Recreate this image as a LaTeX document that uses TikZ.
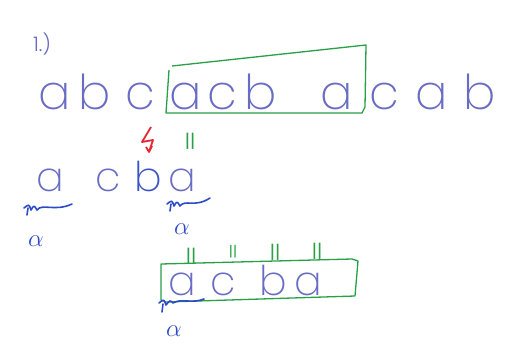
\documentclass[tikz,border=0pt]{standalone}
\usepackage{fontspec}
\setmainfont{Poppins}[UprightFont=* ExtraLight]
\newfontfamily\markfont{Poppins}
\newfontfamily\numfont{Poppins}[UprightFont=* Light]
\definecolor{ink}{RGB}{105,108,195}
\definecolor{inkdark}{RGB}{45,75,200}
\definecolor{grn}{RGB}{40,160,70}
\definecolor{rd}{RGB}{230,40,50}
\tikzset{
  big/.style={text=ink, anchor=base, inner sep=0pt, font=\fontsize{48}{52}\selectfont},
  mid/.style={text=ink, anchor=base, inner sep=0pt, font=\fontsize{41}{44}\selectfont},
  alph/.style={text=inkdark, inner sep=0pt, font=\fontsize{24}{26}\selectfont},
  box/.style={draw=grn, line width=1.3pt, line join=round},
  eq/.style={text=grn, inner sep=0pt, font=\markfont\fontsize{18}{20}\selectfont},
  squig/.style={draw=inkdark, line width=1.6pt, line cap=round, line join=round}
}
\begin{document}
\begin{tikzpicture}[x=1pt,y=-1pt]
\useasboundingbox[fill=white] (0,0) rectangle (518,350);
% label
\node[text=ink, inner sep=0pt, font=\numfont\fontsize{20}{22}\selectfont] (num) at (42,44) {1.)};
% top row
\node[big] (t1) at (55,110) {a};
\node[big] (t2) at (95,110) {b};
\node[big] (t3) at (140,110) {c};
\node[big] (t4) at (186,110) {a};
\node[big] (t5) at (222,110) {c};
\node[big] (t6) at (261,110) {b};
\node[big] (t7) at (337,110) {a};
\node[big] (t8) at (384,110) {c};
\node[big] (t9) at (432,110) {a};
\node[big] (t10) at (480,110) {b};
% green window top
\draw[box] (172,66) -- (366,45) -- (365,107) -- (362,113) -- (166,113) -- (169,70);
% markers between rows
\draw[draw=rd, line width=1.8pt, line join=round] (151,127) -- (142,142) -- (153,140) -- (149,152) (146,147) -- (149,152) -- (152,146);
\node[eq] (e0) at (190,141) {||};
% second row
\node[mid] (s1) at (50,191) {a};
\node[mid] (s2) at (108,191) {c};
\node[mid, text=inkdark!75!ink] (s3) at (148,191) {b};
\node[mid] (s4) at (182,191) {a};
% squiggles and alphas under second row
\draw[squig] (24,208) .. controls (29,204) .. (31,210) .. controls (34,205) .. (37,210) .. controls (42,203) and (55,212) .. (72,204);
\draw[squig] (28,208) -- (27,215);
\node[alph] (al1) at (36,241) {$\alpha$};
\draw[squig] (167,204) .. controls (172,200) .. (174,206) .. controls (177,201) .. (180,206) .. controls (185,199) and (195,208) .. (210,198);
\draw[squig] (171,204) -- (170,211);
\node[alph] (al2) at (182,229) {$\alpha$};
% bottom box
\draw[box] (161,264) -- (352,259) -- (358,261) -- (355,296) -- (166,302) -- (161,300) -- cycle;
\node[mid] (b1) at (182,295) {a};
\node[mid] (b2) at (223,295) {c};
\node[mid] (b3) at (273,295) {b};
\node[mid] (b4) at (308,295) {a};
\node[eq] (e1) at (191,256) {||};
\node[eq, font=\markfont\fontsize{14}{16}\selectfont] (e2) at (233,252) {||};
\node[eq] (e3) at (275,252) {||};
\node[eq] (e4) at (317,251) {||};
\draw[squig] (159,303) .. controls (164,299) .. (166,305) .. controls (170,300) .. (173,303) .. controls (181,298) and (192,304) .. (204,299);
\draw[squig] (163,304) -- (162,312);
\node[alph] (al3) at (174,331) {$\alpha$};
\end{tikzpicture}
\end{document}
